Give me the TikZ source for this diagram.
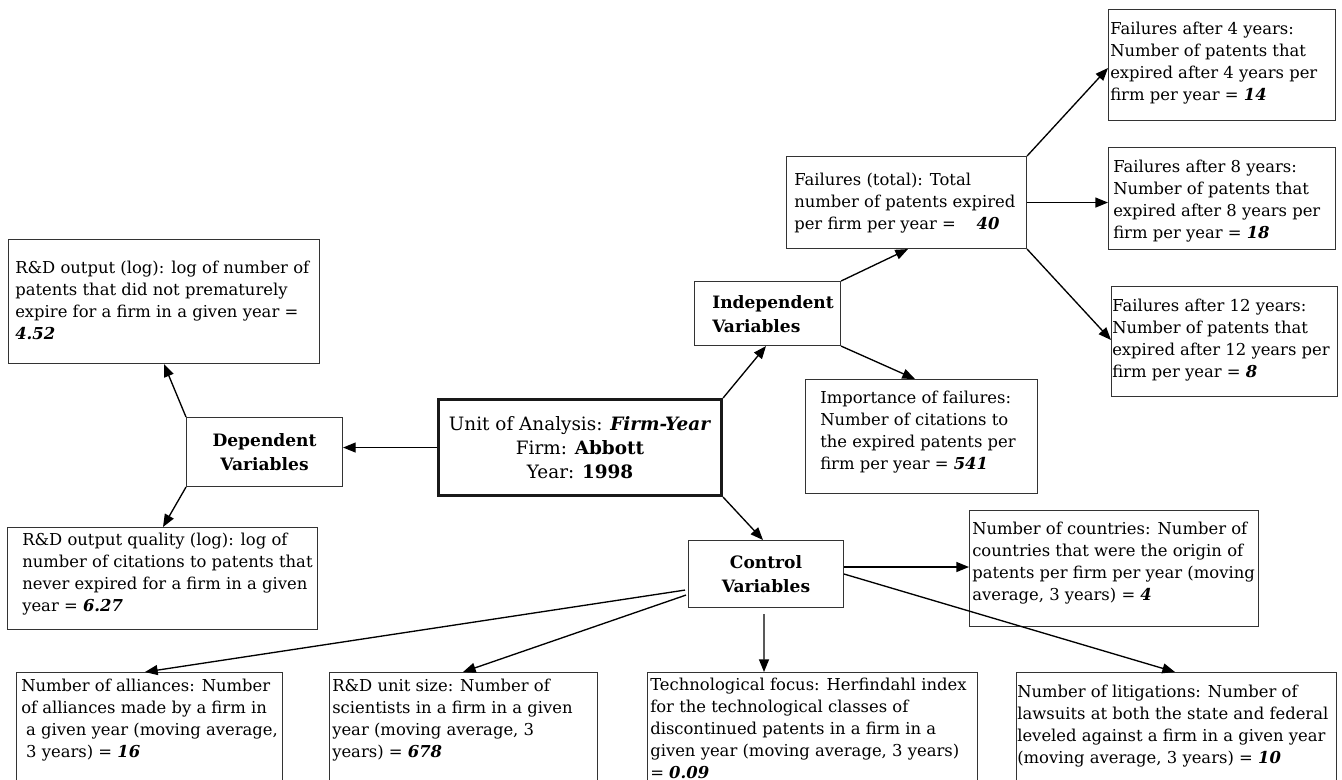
\documentclass[tikz,border=0pt]{standalone}
\usepackage{fontspec}
\setmainfont{DejaVu Serif}
\usetikzlibrary{arrows.meta,calc}
\newdimen\px \px=0.75pt
\tikzset{
  frame/.style={draw=black!80, line width=0.8pt, inner sep=0pt, anchor=north west},
  txt/.style={inner sep=0pt, align=left, anchor=west, font=\fontsize{12.3}{16.5}\selectfont},
  toptxt/.style={txt, anchor=north west},
  hub/.style={frame, align=center, font=\fontsize{12.8}{18}\selectfont\bfseries},
  arr/.style={-{Triangle[length=9.5pt,width=7.5pt]}, line width=1pt},
}
\newcommand{\bv}[1]{\textbf{\textit{#1}}}
\begin{document}
\begin{tikzpicture}[x=0.75pt,y=-0.75pt]
\useasboundingbox (0,0) rectangle (1342,779);
\clip (0,0) rectangle (1342,779);

% ---------- boxes ----------
\node[frame, minimum width=311\px, minimum height=124\px] (rdout) at (8,239) {};
\node[hub, minimum width=156\px, minimum height=69\px] (dep) at (186,417) {Dependent\\Variables};
\node[frame, minimum width=310\px, minimum height=102\px] (rdq) at (7,527) {};
\node[frame, align=center, line width=2.3pt, draw=black!90, minimum width=283\px, minimum height=96\px,
      font=\fontsize{13.8}{18}\selectfont] (unit) at (437,398)
  {Unit of Analysis: \bv{Firm-Year}\\Firm: \textbf{Abbott}\\Year: \textbf{1998}};
\node[frame, minimum width=146\px, minimum height=64\px] (indep) at (694,281) {};
\node[frame, minimum width=240\px, minimum height=92\px] (ftot) at (786,156) {};
\node[frame, minimum width=227\px, minimum height=111\px] (f4) at (1108,9) {};
\node[frame, minimum width=227\px, minimum height=102\px] (f8) at (1108,147) {};
\node[frame, minimum width=226\px, minimum height=110\px] (f12) at (1111,286) {};
\node[frame, minimum width=232\px, minimum height=114\px] (imp) at (805,379) {};
\node[hub, minimum width=155\px, minimum height=67\px] (ctrl) at (688,540) {Control\\Variables};
\node[frame, minimum width=289\px, minimum height=116\px] (ctry) at (969,510) {};
\node[frame, minimum width=266\px, minimum height=160\px] (all) at (16,672) {};
\node[frame, minimum width=268\px, minimum height=160\px] (rdu) at (329,672) {};
\node[frame, minimum width=330\px, minimum height=160\px] (tech) at (647,672) {};
\node[frame, minimum width=320\px, minimum height=160\px] (lit) at (1016,672) {};

% ---------- texts ----------
\node[txt] (rdout-t) at ($(rdout.west)+(7,-1)$)
  {R\&D output (log): log of number of\\patents that did not prematurely\\expire for a firm in a given year =\\\bv{4.52}};
\node[txt] (rdq-t) at ($(rdq.west)+(15,-4)$)
  {R\&D output quality (log): log of\\number of citations to patents that\\never expired for a firm in a given\\year = \bv{6.27}};
\node[txt, font=\fontsize{12.8}{18}\selectfont\bfseries] (indep-t) at ($(indep.west)+(18,1)$)
  {Independent\\Variables};
\node[txt] (ftot-t) at ($(ftot.west)+(8,1)$)
  {Failures (total): Total\\number of patents expired\\per firm per year = \ \ \ \bv{40}};
\node[txt] (f4-t) at ($(f4.west)+(2,-2)$)
  {Failures after 4 years:\\Number of patents that\\expired after 4 years per\\firm per year = \bv{14}};
\node[txt] (f8-t) at ($(f8.west)+(5,3)$)
  {Failures after 8 years:\\Number of patents that\\expired after 8 years per\\firm per year = \bv{18}};
\node[txt] (f12-t) at ($(f12.west)+(1,-1)$)
  {Failures after 12 years:\\Number of patents that\\expired after 12 years per\\firm per year = \bv{8}};
\node[txt] (imp-t) at ($(imp.west)+(15,-4)$)
  {Importance of failures:\\Number of citations to\\the expired patents per\\firm per year = \bv{541}};
\node[txt] (ctry-t) at ($(ctry.west)+(3,-5)$)
  {Number of countries: Number of\\countries that were the origin of\\patents per firm per year (moving\\average, 3 years) = \bv{4}};
\node[toptxt] (all-t) at ($(all.north west)+(5,7)$)
  {Number of alliances: Number\\of alliances made by a firm in\\\hspace{0.3em}a given year (moving average,\\\hspace{0.3em}3 years) = \bv{16}};
\node[toptxt] (rdu-t) at ($(rdu.north west)+(3,7)$)
  {R\&D unit size: Number of\\scientists in a firm in a given\\year (moving average, 3\\years) = \bv{678}};
\node[toptxt] (tech-t) at ($(tech.north west)+(3,6)$)
  {Technological focus: Herfindahl index\\for the technological classes of\\discontinued patents in a firm in a\\given year (moving average, 3 years)\\= \bv{0.09}};
\node[toptxt] (lit-t) at ($(lit.north west)+(1,13)$)
  {Number of litigations: Number of\\lawsuits at both the state and federal\\leveled against a firm in a given year\\(moving average, 3 years) = \bv{10}};

% ---------- connectors ----------
\draw[arr] (unit.west) -- (unit.west -| dep.east);
\draw[arr] (dep.north west) -- ($(rdout.south west)+(156,0)$);
\draw[arr] (dep.south west) -- ($(rdq.north west)+(156,0)$);
\draw[arr] (unit.north east) -- ($(indep.south west)+(72,0)$);
\draw[arr] (unit.south east) -- ($(ctrl.north west)+(75,0)$);
\draw[arr] (indep.north east) -- ($(ftot.south west)+(122,0)$);
\draw[arr] (indep.south east) -- ($(imp.north west)+(110,0)$);
\draw[arr] (ftot.north east) -- ($(f4.north west)+(0,59)$);
\draw[arr] (ftot.east) -- (ftot.east -| f8.west);
\draw[arr] (ftot.south east) -- ($(f12.north west)+(0,54)$);
\draw[arr] ($(ctrl.north east)+(0,27)$) coordinate (c1) -- (c1 -| ctry.west);
\draw[arr] (ctrl.east) -- ($(lit.north west)+(159,0)$);
\draw[arr] ($(ctrl.south)+(-2,6)$) -- ($(tech.north west)+(117,0)$);
\draw[arr] ($(ctrl.south west)+(-3,-18)$) -- ($(all.north west)+(129,0)$);
\draw[arr] ($(ctrl.south west)+(-2,-13)$) -- ($(rdu.north west)+(134,0)$);
\end{tikzpicture}
\end{document}
